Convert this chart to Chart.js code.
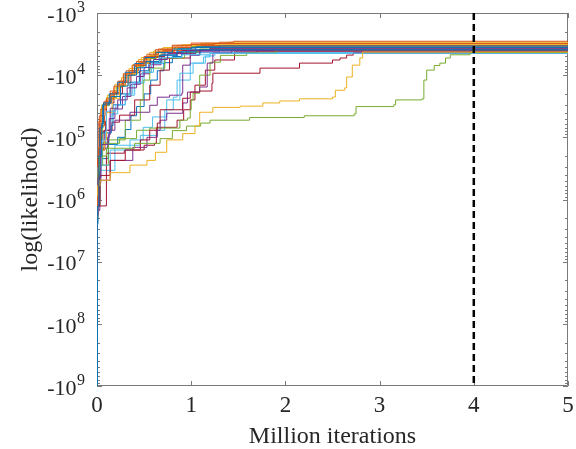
<!DOCTYPE html>
<html>
<head>
<meta charset="utf-8">
<script src="https://cdn.jsdelivr.net/npm/chart.js"></script>
<style>
  html, body { margin: 0; padding: 0; background: #fff; }
  canvas { display: block; }
</style>
</head>
<body>
<canvas id="chart" width="576" height="449"></canvas>
<script>
// each run: [million iterations, log(likelihood)]
const run01 = [[0,-1.2e9],[0.004,-1.3e6],[0.02,-2.0e5],[0.05,-6.0e4],[0.07,-2.8e4],[0.15,-2.2e4],[0.25,-1.5e4],[0.33,-1.0e4],[0.42,-7.6e3],[0.52,-6.0e3],[0.66,-4.8e3],[0.85,-4.2e3],[1.05,-3.9e3],[5,-3.9e3]];
const run02 = [[0,-1.4e7],[0.004,-9e5],[0.015,-1.5e5],[0.04,-3.5e4],[0.1,-2.4e4],[0.18,-1.5e4],[0.28,-9.5e3],[0.38,-6.8e3],[0.5,-5.0e3],[0.62,-3.9e3],[0.8,-3.3e3],[1.0,-3.05e3],[1.3,-2.95e3],[1.45,-2.85e3],[5,-2.85e3]];
const run03 = [[0,-1.5e6],[0.005,-6e5],[0.03,-4.9e5],[0.14,-3.7e5],[0.35,-2.8e5],[0.53,-2.35e5],[0.62,-1.74e5],[0.74,-1.1e5],[0.91,-8.7e4],[1.04,-6.5e4],[1.09,-3.95e4],[1.23,-3.3e4],[1.52,-3.15e4],[1.76,-2.8e4],[1.94,-2.6e4],[2.15,-2.4e4],[2.5,-2.25e4],[2.53,-1.75e4],[2.63,-1.6e4],[2.65,-1.07e4],[2.71,-6.9e3],[2.79,-5.3e3],[2.82,-4.25e3],[5,-4.25e3]];
const run04 = [[0,-1.8e6],[0.01,-4.5e5],[0.04,-1.3e5],[0.12,-9e4],[0.14,-3.4e4],[0.22,-2.5e4],[0.32,-1.6e4],[0.42,-1.05e4],[0.5,-7.5e3],[0.6,-5.6e3],[0.75,-4.5e3],[0.95,-4.0e3],[1.2,-3.75e3],[5,-3.75e3]];
const run05 = [[0,-1.1e6],[0.01,-3.5e5],[0.03,-2.0e5],[0.1,-1.5e5],[0.4,-1.25e5],[0.67,-1.05e5],[0.8,-7.8e4],[0.95,-6.6e4],[1.1,-5.9e4],[1.2,-5.3e4],[1.62,-4.8e4],[2.2,-4.5e4],[2.73,-4.2e4],[2.75,-3.2e4],[3.15,-3.0e4],[3.17,-2.5e4],[3.45,-2.4e4],[3.47,-1.2e4],[3.5,-8.3e3],[3.58,-7.0e3],[3.64,-6.4e3],[3.7,-5.3e3],[3.75,-4.7e3],[3.96,-4.3e3],[5,-4.3e3]];
const run06 = [[0,-1.2e6],[0.01,-3e5],[0.05,-1.1e5],[0.09,-8e4],[0.1,-3.8e4],[0.2,-3.0e4],[0.3,-2.0e4],[0.38,-1.3e4],[0.48,-9e3],[0.58,-6.5e3],[0.7,-5.2e3],[0.9,-4.7e3],[1.2,-4.45e3],[5,-4.45e3]];
const run07 = [[0,-1.27e6],[0.03,-4.1e5],[0.14,-2.35e5],[0.3,-1.6e5],[0.46,-1.1e5],[0.56,-7.7e4],[0.64,-5.9e4],[0.67,-3.6e4],[0.91,-2.35e4],[0.99,-1.87e4],[1.09,-1.8e4],[1.22,-1.35e4],[1.23,-9.3e3],[1.73,-7.7e3],[2.15,-6.4e3],[2.5,-5.7e3],[2.58,-5.3e3],[2.65,-4.76e3],[2.72,-4.4e3],[5,-4.4e3]];
const run08 = [[0,-2.2e6],[0.008,-5e5],[0.03,-7e4],[0.06,-3.0e4],[0.13,-2.0e4],[0.22,-1.3e4],[0.3,-9.0e3],[0.4,-6.5e3],[0.5,-5.2e3],[0.62,-4.3e3],[0.8,-3.8e3],[1.0,-3.6e3],[5,-3.6e3]];
const run09 = [[0,-1.0e6],[0.006,-2.5e5],[0.02,-5.5e4],[0.07,-2.7e4],[0.14,-1.8e4],[0.22,-1.25e4],[0.31,-8.5e3],[0.42,-6.0e3],[0.53,-4.6e3],[0.65,-3.8e3],[0.8,-3.4e3],[1.0,-3.2e3],[1.25,-3.1e3],[5,-3.1e3]];
const run10 = [[0,-2.0e6],[0.01,-6e5],[0.03,-1.6e5],[0.08,-1.1e5],[0.1,-4.0e4],[0.16,-2.4e4],[0.24,-1.45e4],[0.33,-9.5e3],[0.43,-6.5e3],[0.55,-4.8e3],[0.68,-3.8e3],[0.85,-3.3e3],[1.1,-3.05e3],[1.4,-2.95e3],[5,-2.95e3]];
const run11 = [[0,-1.5e6],[0.03,-4.9e5],[0.14,-2.35e5],[0.38,-1.45e5],[0.53,-1.0e5],[0.64,-7.7e4],[0.67,-5.3e4],[0.74,-4.1e4],[0.91,-2.8e4],[0.96,-1.87e4],[1.09,-1.55e4],[1.17,-6.4e3],[1.23,-4.4e3],[1.43,-3.95e3],[5,-3.95e3]];
const run12 = [[0,-1.27e6],[0.03,-2.8e5],[0.06,-1.25e5],[0.24,-1.05e5],[0.42,-7.7e4],[0.56,-7.1e4],[0.88,-5.3e4],[0.96,-4.9e4],[0.99,-3.6e4],[1.0,-2.5e4],[1.02,-1.95e4],[1.09,-1.0e4],[1.2,-6.2e3],[1.31,-4.8e3],[1.59,-4.4e3],[1.9,-3.95e3],[5,-3.95e3]];
const run13 = [[0,-1.1e6],[0.03,-2.8e5],[0.14,-1.6e5],[0.35,-1.1e5],[0.49,-6.9e4],[0.59,-4.7e4],[0.74,-2.5e4],[0.88,-9.3e3],[1.02,-6.4e3],[1.15,-4.9e3],[1.25,-4.4e3],[5,-4.4e3]];
const run14 = [[0,-1.27e6],[0.1,-1.8e5],[0.29,-1.6e5],[0.5,-1.34e5],[0.61,-1.25e5],[0.63,-6.9e4],[0.85,-5.3e4],[0.92,-3.6e4],[0.99,-2.5e4],[1.04,-1.45e4],[1.15,-8.3e3],[1.25,-5.7e3],[1.46,-4.25e3],[1.7,-4.1e3],[5,-4.1e3]];
const run15 = [[0,-1.5e6],[0.01,-3.5e5],[0.04,-8.5e4],[0.15,-6.5e4],[0.17,-3.0e4],[0.25,-2.0e4],[0.35,-1.3e4],[0.45,-8.5e3],[0.55,-6.2e3],[0.68,-4.6e3],[0.85,-3.8e3],[1.05,-3.5e3],[1.3,-3.4e3],[5,-3.4e3]];
const run16 = [[0,-9e5],[0.006,-2.2e5],[0.025,-4.5e4],[0.07,-2.9e4],[0.14,-2.0e4],[0.22,-1.4e4],[0.3,-1.0e4],[0.4,-7.0e3],[0.52,-5.2e3],[0.65,-4.2e3],[0.82,-3.6e3],[1.05,-3.35e3],[5,-3.3e3]];
const run17 = [[0,-1.3e6],[0.008,-4e5],[0.03,-9e4],[0.05,-3.3e4],[0.1,-2.3e4],[0.18,-1.6e4],[0.26,-1.1e4],[0.34,-7.8e3],[0.44,-5.6e3],[0.56,-4.3e3],[0.7,-3.6e3],[0.9,-3.25e3],[1.15,-3.1e3],[1.35,-3.05e3],[5,-3.05e3]];
const run18 = [[0,-1.05e6],[0.03,-1.6e5],[0.085,-7.7e4],[0.19,-5.3e4],[0.35,-3.95e4],[0.56,-3.05e4],[0.64,-2.26e4],[0.77,-2.1e4],[0.9,-1.95e4],[0.91,-6.9e3],[0.99,-4.8e3],[1.09,-3.95e3],[5,-3.95e3]];
const run19 = [[0,-1.05e6],[0.03,-2.8e5],[0.12,-1.1e5],[0.3,-5.3e4],[0.46,-2.5e4],[0.49,-1.2e4],[0.56,-7.7e3],[0.72,-5.3e3],[0.93,-4.25e3],[1.09,-3.8e3],[5,-3.8e3]];
const run20 = [[0,-1.3e6],[0.03,-3.4e5],[0.19,-1.34e5],[0.46,-9.3e4],[0.64,-7.7e4],[0.72,-3.6e4],[0.81,-2.26e4],[0.85,-1.2e4],[0.99,-6.4e3],[1.13,-5.1e3],[1.2,-4.4e3],[5,-4.4e3]];
const run21 = [[0,-8.6e5],[0.03,-1.6e5],[0.075,-7.7e4],[0.16,-5.7e4],[0.24,-4.4e4],[0.4,-2.5e4],[0.56,-1.45e4],[0.67,-8.3e3],[0.77,-5.3e3],[0.99,-3.95e3],[1.2,-3.65e3],[5,-3.65e3]];
const run22 = [[0,-2.5e6],[0.01,-7e5],[0.03,-2.2e5],[0.12,-1.3e5],[0.22,-1.0e5],[0.3,-7.5e4],[0.36,-4.5e4],[0.42,-3.2e4],[0.5,-2.0e4],[0.57,-1.2e4],[0.64,-8.5e3],[0.71,-6.3e3],[0.8,-5.0e3],[0.9,-4.3e3],[1.1,-4.0e3],[5,-4.0e3]];
const run23 = [[0,-1.1e6],[0.008,-2.8e5],[0.035,-6.5e4],[0.08,-4.5e4],[0.085,-2.6e4],[0.16,-1.9e4],[0.24,-1.25e4],[0.34,-8.5e3],[0.44,-6.2e3],[0.56,-4.8e3],[0.7,-4.0e3],[0.9,-3.6e3],[1.15,-3.5e3],[5,-3.5e3]];
const run24 = [[0,-1.6e6],[0.01,-5e5],[0.025,-1.0e5],[0.05,-3.0e4],[0.11,-2.1e4],[0.19,-1.4e4],[0.28,-9.6e3],[0.37,-7.0e3],[0.47,-5.2e3],[0.6,-4.1e3],[0.75,-3.6e3],[0.95,-3.3e3],[1.2,-3.2e3],[5,-3.2e3]];
const run25 = [[0,-1.9e6],[0.01,-5.5e5],[0.04,-1.5e5],[0.11,-1.0e5],[0.13,-5.0e4],[0.19,-3.5e4],[0.27,-2.2e4],[0.36,-1.4e4],[0.46,-9.5e3],[0.56,-6.8e3],[0.68,-5.3e3],[0.85,-4.5e3],[1.05,-4.2e3],[1.3,-4.1e3],[5,-4.1e3]];
const run26 = [[0,-1.4e6],[0.008,-4e5],[0.03,-1.1e5],[0.06,-7e4],[0.065,-3.1e4],[0.13,-2.3e4],[0.21,-1.5e4],[0.3,-1.0e4],[0.4,-7.2e3],[0.5,-5.4e3],[0.63,-4.3e3],[0.8,-3.7e3],[1.0,-3.45e3],[1.2,-3.35e3],[5,-3.35e3]];
const run27 = [[0,-1.7e6],[0.01,-4.5e5],[0.04,-1.2e5],[0.13,-8.5e4],[0.15,-4.2e4],[0.22,-3.0e4],[0.3,-2.1e4],[0.4,-1.35e4],[0.5,-9e3],[0.6,-6.5e3],[0.72,-5.2e3],[0.9,-4.6e3],[1.1,-4.35e3],[5,-4.3e3]];
const run28 = [[0,-1.2e6],[0.008,-3e5],[0.03,-8e4],[0.09,-5.5e4],[0.1,-2.8e4],[0.18,-2.0e4],[0.27,-1.3e4],[0.36,-9.0e3],[0.46,-6.5e3],[0.57,-5.0e3],[0.72,-4.3e3],[0.9,-4.0e3],[1.1,-3.9e3],[5,-3.9e3]];

const runs = [run01, run02, run03, run04, run05, run06, run07, run08, run09, run10,
  run11, run12, run13, run14, run15, run16, run17, run18, run19, run20,
  run21, run22, run23, run24, run25, run26, run27, run28];

// matlab default colour order
const lineColors = ["#0072BD", "#D95319", "#EDB120", "#7E2F8E", "#77AC30", "#4DBEEE", "#A2142F"];

const xTickValues = [0, 1, 2, 3, 4, 5];
const yDecades = [3, 4, 5, 6, 7, 8, 9];
const yMantissas = [1, 2, 3, 4, 5, 6, 7, 8, 9];
const yTickBase = "-10";
const yMin = 1e3, yMax = 1e9;
const cutoffIter = 4;

const serif = "'Liberation Serif', 'DejaVu Serif', serif";
Chart.defaults.font.family = serif;

let datasets = runs.map((run, i) => ({
    data: run.map((p) => ({ x: p[0], y: -p[1] })),
    borderColor: lineColors[i % lineColors.length],
    borderWidth: 1,
    pointRadius: 0,
    stepped: true,
    fill: false,
}));
// dashed cut-off line, drawn on top
datasets.push({
    data: [{ x: cutoffIter, y: yMin }, { x: cutoffIter, y: yMax }],
    borderColor: "#000",
    borderWidth: 2.5,
    borderDash: [7, 4],
    pointRadius: 0,
    order: -1,
});

// box and inward ticks under the data (matlab Layer bottom), -10^n labels
const matlabAxes = {
    id: "matlabAxes",
    beforeDatasetsDraw(chart) {
        const { ctx, chartArea: area, scales } = chart;
        const xs = scales.x, ys = scales.y;
        ctx.save();
        ctx.strokeStyle = "#7a7a7a";
        ctx.lineWidth = 1;
        ctx.beginPath();
        xTickValues.forEach((v) => {
            const px = Math.round(xs.getPixelForValue(v)) + 0.5;
            ctx.moveTo(px, area.bottom);
            ctx.lineTo(px, area.bottom - 5);
            ctx.moveTo(px, area.top);
            ctx.lineTo(px, area.top + 5);
        });
        yDecades.forEach((e) => {
            yMantissas.forEach((m) => {
                const v = m * Math.pow(10, e);
                if (v > yMax) return;
                const py = Math.round(ys.getPixelForValue(v)) + 0.5;
                const len = m === 1 ? 5 : 3;
                ctx.moveTo(area.left, py);
                ctx.lineTo(area.left + len, py);
                ctx.moveTo(area.right, py);
                ctx.lineTo(area.right - len, py);
            });
        });
        ctx.rect(area.left + 0.5, area.top + 0.5, area.width - 1, area.height - 1);
        ctx.stroke();

        const labelRight = 85;
        ctx.fillStyle = "#262626";
        ctx.textBaseline = "middle";
        yDecades.forEach((e) => {
            const py = ys.getPixelForValue(Math.pow(10, e));
            const expText = String(e);
            ctx.font = "16px " + serif;
            const ew = ctx.measureText(expText).width;
            ctx.textAlign = "left";
            ctx.fillText(expText, labelRight - ew, py - 5);
            ctx.font = "22px " + serif;
            ctx.textAlign = "right";
            ctx.fillText(yTickBase, labelRight - ew - 0.5, py + 3);
        });
        ctx.restore();
    },
};

new Chart(document.getElementById("chart"), {
    type: "line",
    data: { datasets },
    options: {
        responsive: false,
        animation: false,
        layout: { padding: { top: 13, right: 0, left: 0, bottom: 0 } },
        plugins: { legend: { display: false }, tooltip: { enabled: false } },
        scales: {
            x: {
                type: "linear",
                min: 0,
                max: 5,
                ticks: { stepSize: 1, color: "#262626", font: { size: 23 }, padding: 6, maxRotation: 0 },
                grid: { display: false, drawTicks: false },
                border: { display: false },
                title: { display: true, text: "Million iterations", color: "#262626", font: { size: 24 }, padding: { top: 0, bottom: -2 } },
                afterFit: (s) => { s.height = 63; s.paddingRight = 8; s.paddingLeft = 0; },
            },
            y: {
                type: "logarithmic",
                reverse: true,
                min: yMin,
                max: yMax,
                ticks: { display: false },
                grid: { display: false, drawTicks: false },
                border: { display: false },
                title: { display: true, text: "log(likelihood)", color: "#262626", font: { size: 24 }, padding: { top: 16, bottom: 0 } },
                afterFit: (s) => { s.width = 97; },
            },
        },
    },
    plugins: [matlabAxes],
});
</script>
</body>
</html>
